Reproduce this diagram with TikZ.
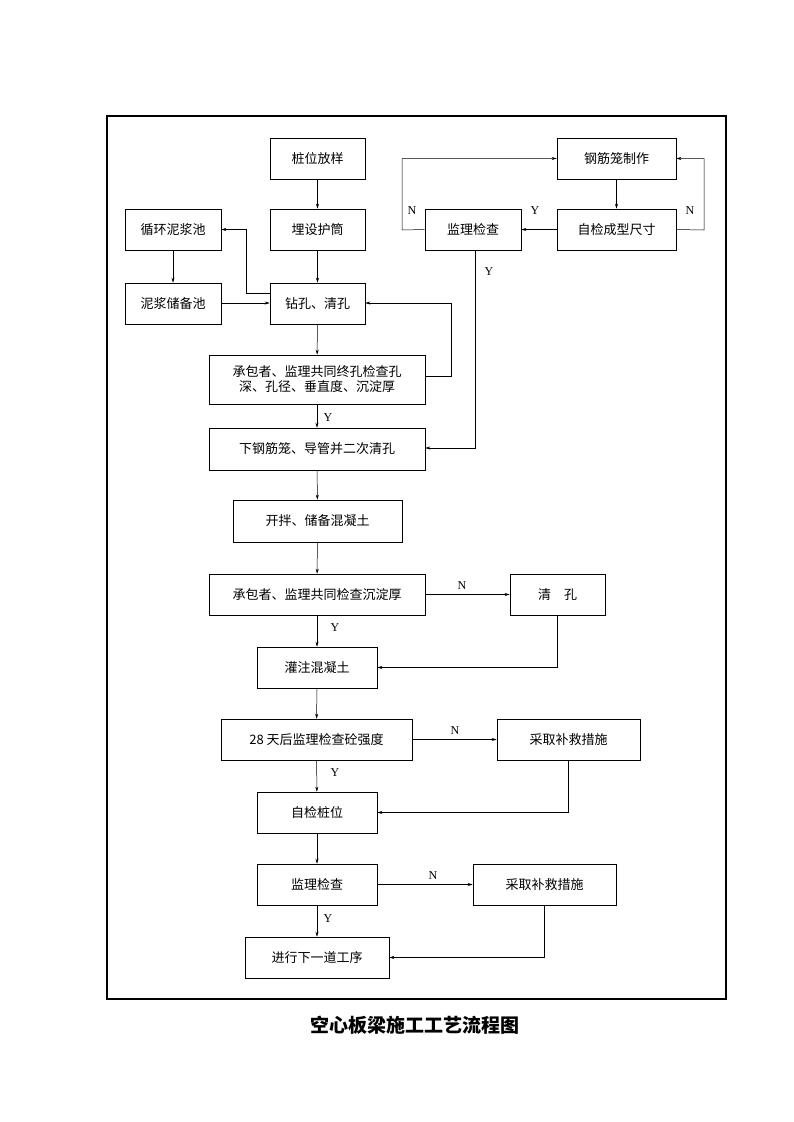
\documentclass[tikz,border=0pt]{standalone}
\usepackage{fontspec}
\setmainfont{Liberation Serif}
\newfontfamily\cjk{Noto Sans CJK SC}
\usetikzlibrary{arrows.meta}
\begin{document}
\begin{tikzpicture}[x=1pt,y=-1pt,
  box/.style={draw,line width=0.6pt,inner sep=0pt,font=\cjk\fontsize{13}{15}\selectfont,align=center},
  arr/.style={-{Stealth[length=5pt,width=3pt]},line width=0.5pt},
  lab/.style={font=\fontsize{12}{13}\selectfont}]
\useasboundingbox (0,0) rectangle (793,1122);
\draw[line width=1.2pt] (107,116) rectangle (726,999);
\newcommand{\bx}[6]{\node[box,minimum width=#4-#3,minimum height=#6-#5] (#1) at ({(#3+#4)/2},{(#5+#6)/2}) {#2};}
\bx{a}{桩位放样}{270}{365}{138}{179}
\bx{b}{埋设护筒}{270}{365}{209}{250}
\bx{c}{循环泥浆池}{125}{221}{209}{250}
\bx{d}{泥浆储备池}{125}{221}{283}{324}
\bx{e}{钻孔、清孔}{270}{365}{283}{324}
\bx{f}{承包者、监理共同终孔检查孔\\深、孔径、垂直度、沉淀厚}{209}{425}{355}{404}
\bx{g}{下钢筋笼、导管并二次清孔}{209}{425}{428}{470}
\bx{h}{钢筋笼制作}{557}{676}{138}{179}
\bx{i}{监理检查}{425}{521}{209}{250}
\bx{j}{自检成型尺寸}{557}{676}{209}{250}
\bx{k}{开拌、储备混凝土}{233}{402}{500}{542}
\bx{l}{承包者、监理共同检查沉淀厚}{209}{425}{574}{615}
\bx{m}{清\quad 孔}{510}{605}{574}{615}
\bx{n}{灌注混凝土}{257}{377}{647}{688}
\bx{o}{28 天后监理检查砼强度}{221}{412}{719}{760}
\bx{p}{采取补救措施}{497}{640}{719}{760}
\bx{q}{自检桩位}{257}{377}{792}{833}
\bx{r}{监理检查}{257}{377}{864}{905}
\bx{s}{采取补救措施}{473}{616}{864}{905}
\bx{t}{进行下一道工序}{245}{389}{937}{978}
\foreach \u/\v in {a/b,b/e,e/f,f/g,g/k,k/l,l/n,n/o,o/q,q/r,r/t,c/d,h/j}
  \draw[arr] (\u) -- (\v);
\draw[arr] (e.west |- 0,293) -- (246,293) |- (c.east);
\draw[arr] (d.east |- 0,303) -- (e.west |- 0,303);
\draw[arr] (f.east |- 0,376) -- (451,376) |- (e.east |- 0,303);
\draw[arr] (j) -- (i);
\draw[arr] (i.west) -- (402,230) |- (h.west);
\draw[arr] (j.east) -- (704,230) |- (h.east);
\draw[arr] (475,250) |- (g.east |- 0,448);
\draw[arr] (l) -- (m);
\draw[arr] (m.south) |- (n.east);
\draw[arr] (o) -- (p);
\draw[arr] (p.south) |- (q.east);
\draw[arr] (r) -- (s);
\draw[arr] (s.south) |- (t.east);
\node[lab] (y1) at (328,418) {Y};
\node[lab] (y2) at (535,211) {Y};
\node[lab] (y3) at (489,272) {Y};
\node[lab] (n1) at (412,211) {N};
\node[lab] (n2) at (690,211) {N};
\node[lab] (n3) at (462,586) {N};
\node[lab] (y4) at (335,628) {Y};
\node[lab] (n4) at (455,731) {N};
\node[lab] (y5) at (335,773) {Y};
\node[lab] (n5) at (433,876) {N};
\node[lab] (y6) at (328,919) {Y};
\node[font=\cjk\bfseries\fontsize{19}{21}\selectfont] (title) at (415,1025) {空心板梁施工工艺流程图};
\end{tikzpicture}
\end{document}
